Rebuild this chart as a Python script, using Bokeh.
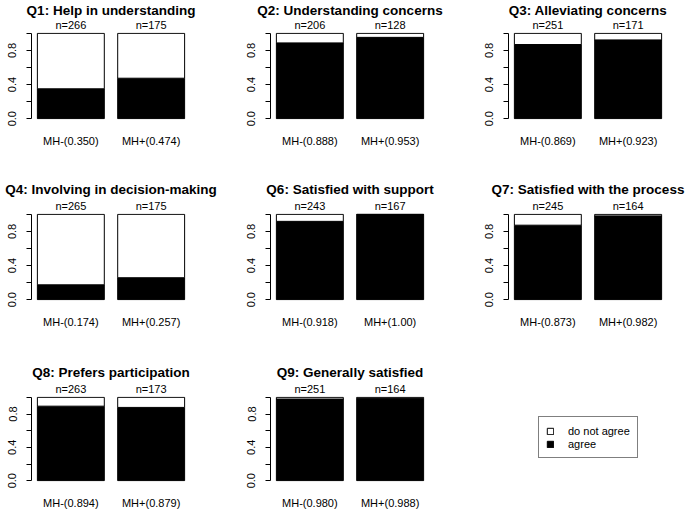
from bokeh.plotting import figure
from bokeh.layouts import gridplot
from bokeh.models import (Range1d, FixedTicker, PrintfTickFormatter, LinearAxis,
                          Legend, LegendItem, ColumnDataSource)
from bokeh.embed import file_html
from bokeh.resources import INLINE

# ---- data ----
questions = ["Q1: Help in understanding", "Q2: Understanding concerns",
             "Q3: Alleviating concerns", "Q4: Involving in decision-making",
             "Q6: Satisfied with support", "Q7: Satisfied with the process",
             "Q8: Prefers participation", "Q9: Generally satisfied"]
agree_minus = [0.350, 0.888, 0.869, 0.174, 0.918, 0.873, 0.894, 0.980]
agree_plus = [0.474, 0.953, 0.923, 0.257, 1.00, 0.982, 0.879, 0.988]
n_minus = [266, 206, 251, 265, 243, 245, 263, 251]
n_plus = [175, 128, 171, 175, 167, 164, 173, 164]
label_minus = ["MH-(0.350)", "MH-(0.888)", "MH-(0.869)", "MH-(0.174)",
               "MH-(0.918)", "MH-(0.873)", "MH-(0.894)", "MH-(0.980)"]
label_plus = ["MH+(0.474)", "MH+(0.953)", "MH+(0.923)", "MH+(0.257)",
              "MH+(1.00)", "MH+(0.982)", "MH+(0.879)", "MH+(0.988)"]
legend_labels = ["do not agree", "agree"]

# ---- layout / style ----
FONT = "Liberation Sans"
col_widths = [239, 238, 208]
row_heights = [178, 183, 150]
row_border_top = [32, 35, 35]
row_title_standoff = [-4, -1, -1]
BORDER_L = 31
FRAME_W, FRAME_H = 159, 87
BAR_W = 1 / 1.2
positions = [1, 2]


def make_fig(r, c, title=None):
    w, h, bt = col_widths[c], row_heights[r], row_border_top[r]
    kw = dict(width=w, height=h, output_backend="svg", toolbar_location=None,
              x_range=Range1d(0.51, 2.49), y_range=Range1d(-0.01, 1.01),
              min_border_left=BORDER_L, min_border_right=w - BORDER_L - FRAME_W,
              min_border_top=bt, min_border_bottom=h - bt - FRAME_H,
              outline_line_color=None, background_fill_color="white",
              border_fill_color="white")
    if title is not None:
        kw["title"] = title
    p = figure(**kw)
    p.grid.visible = False
    return p


def style_label_axis(ax, standoff):
    ax.axis_line_color = None
    ax.major_tick_line_color = None
    ax.minor_tick_line_color = None
    ax.major_tick_out = 0
    ax.major_tick_in = 0
    ax.minor_tick_out = 0
    ax.minor_tick_in = 0
    ax.major_label_standoff = standoff
    ax.major_label_text_font = FONT
    ax.major_label_text_font_size = "11px"
    ax.major_label_text_color = "black"


figs = []
for i, q in enumerate(questions):
    r, c = divmod(i, 3)
    p = make_fig(r, c, q)
    p.title.text_font = FONT
    p.title.text_font_size = "13.5px"
    p.title.text_font_style = "bold"
    p.title.align = "center"
    try:
        p.title.standoff = row_title_standoff[r]
    except Exception:
        p.title.standoff = 0
    p.title.text_color = "black"

    src = ColumnDataSource(dict(x=positions,
                                agree=[agree_minus[i], agree_plus[i]],
                                total=[1.0, 1.0]))
    p.vbar(x="x", width=BAR_W, bottom=0, top="agree", source=src,
           fill_color="black", line_color="black", line_width=1)
    p.vbar(x="x", width=BAR_W, bottom="agree", top="total", source=src,
           fill_color="white", line_color="black", line_width=1)

    # bottom group labels
    xa = p.xaxis[0]
    xa.ticker = FixedTicker(ticks=positions)
    xa.major_label_overrides = {positions[0]: label_minus[i],
                                positions[1]: label_plus[i]}
    style_label_axis(xa, 15)

    # n labels above bars
    ta = LinearAxis(ticker=FixedTicker(ticks=positions),
                    major_label_overrides={positions[0]: f"n={n_minus[i]}",
                                           positions[1]: f"n={n_plus[i]}"})
    style_label_axis(ta, 2)
    p.add_layout(ta, "above")

    # y axis
    ya = p.yaxis[0]
    ya.ticker = FixedTicker(ticks=[0.0, 0.4, 0.8], minor_ticks=[0.2, 0.6, 1.0])
    ya.formatter = PrintfTickFormatter(format="%.1f")
    ya.bounds = (0, 1)
    ya.major_label_orientation = "vertical"
    ya.major_tick_out = 5
    ya.major_tick_in = 0
    ya.minor_tick_out = 5
    ya.minor_tick_in = 0
    ya.axis_line_color = "black"
    ya.major_tick_line_color = "black"
    ya.minor_tick_line_color = "black"
    ya.major_label_standoff = 10
    ya.major_label_text_font = FONT
    ya.major_label_text_font_size = "11px"
    ya.major_label_text_color = "black"
    figs.append(p)

# legend panel
nan = float("nan")
pl = make_fig(2, 2)
pl.xaxis.visible = False
pl.yaxis.visible = False
r_dis = pl.quad(left=[nan], right=[nan], bottom=[nan], top=[nan],
                fill_color="white", line_color="black")
r_agr = pl.quad(left=[nan], right=[nan], bottom=[nan], top=[nan],
                fill_color="black", line_color="black")
legend = Legend(items=[LegendItem(label=legend_labels[0], renderers=[r_dis]),
                       LegendItem(label=legend_labels[1], renderers=[r_agr])],
                location=(30, 23), padding=7, spacing=0, margin=0,
                label_height=13, glyph_height=8, glyph_width=8,
                label_standoff=14, label_text_font=FONT,
                label_text_font_size="11px", label_text_color="black",
                border_line_color="black", border_line_width=1,
                background_fill_color="white", background_fill_alpha=1.0)
pl.add_layout(legend)
figs.append(pl)

grid = gridplot([figs[0:3], figs[3:6], figs[6:9]], toolbar_location=None)

open("out.html", "w").write(file_html(grid, INLINE))
